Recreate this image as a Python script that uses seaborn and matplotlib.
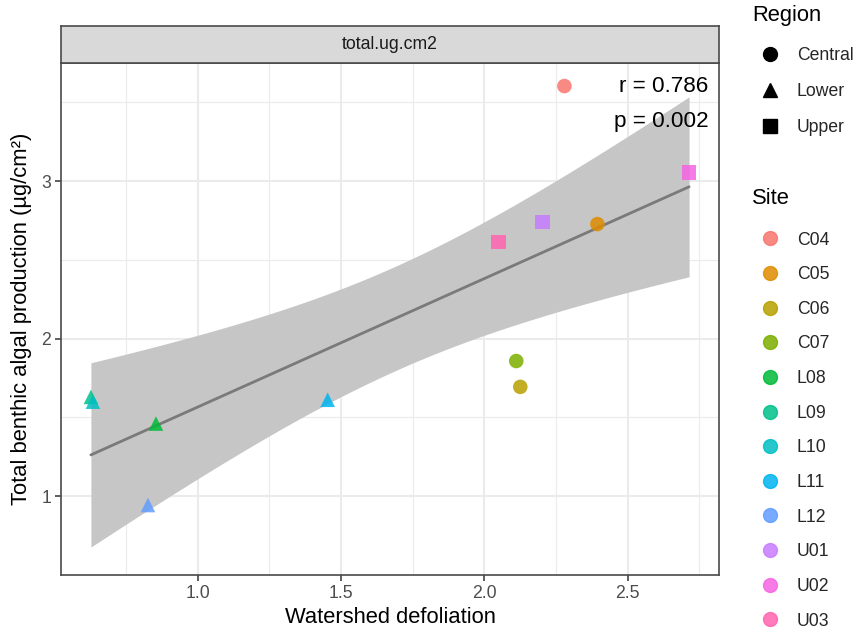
import numpy as np
import pandas as pd
import matplotlib
matplotlib.use("Agg")
import matplotlib.pyplot as plt
from matplotlib.lines import Line2D
import seaborn as sns

# ---- data ----
sites = ["C04", "C05", "C06", "C07", "L08", "L09", "L10", "L11", "L12", "U01", "U02", "U03"]
regions = ["Central", "Central", "Central", "Central", "Lower", "Lower", "Lower", "Lower", "Lower",
           "Upper", "Upper", "Upper"]
defoliation = [2.279, 2.394, 2.125, 2.111, 0.854, 0.627, 0.634, 1.453, 0.826, 2.202, 2.714, 2.049]
production = [3.603, 2.727, 1.694, 1.858, 1.461, 1.630, 1.600, 1.612, 0.944, 2.739, 3.055, 2.613]
region_order = ["Central", "Lower", "Upper"]
stat_labels = ["r = 0.786", "p = 0.002"]
facet_label = "total.ug.cm2"
x_ticks = [1.0, 1.5, 2.0, 2.5]
y_ticks = [1, 2, 3]

site_colors = ["#F8766D", "#DE8C00", "#B79F00", "#7CAE00", "#00BA38", "#00C08B",
               "#00BFC4", "#00B4F0", "#619CFF", "#C77CFF", "#F564E3", "#FF64B0"]
region_markers = {"Central": "o", "Lower": "^", "Upper": "s"}

df = pd.DataFrame({"Site": sites, "Region": regions, "x": defoliation, "y": production})

sns.set_theme(style="white")
plt.rcParams["font.family"] = ["Liberation Sans", "DejaVu Sans"]

W, H = 860, 636
fig = plt.figure(figsize=(W / 100, H / 100), dpi=100)
L, R, T, B = 61, 719, 63, 575
ax = fig.add_axes([L / W, 1 - B / H, (R - L) / W, (B - T) / H])

# ---- linear fit with 95% CI ----
x = np.asarray(defoliation)
y = np.asarray(production)
n = len(x)
b1, b0 = np.polyfit(x, y, 1)
xs = np.linspace(x.min(), x.max(), 200)
ys = b0 + b1 * xs
resid = y - (b0 + b1 * x)
s = np.sqrt(np.sum(resid ** 2) / (n - 2))
sxx = np.sum((x - x.mean()) ** 2)
tcrit = 2.228  # t(0.975, df=10)
se = s * np.sqrt(1 / n + (xs - x.mean()) ** 2 / sxx)
ax.fill_between(xs, ys - tcrit * se, ys + tcrit * se, color="#C6C6C6", lw=0, zorder=1)
ax.plot(xs, ys, color="#7A7A7A", lw=2.0, zorder=2)

sns.scatterplot(data=df, x="x", y="y", hue="Site", hue_order=sites, palette=site_colors,
                style="Region", style_order=region_order, markers=region_markers,
                s=110, alpha=0.85, linewidth=0, legend=False, ax=ax, zorder=3)

# limits with ggplot-like 5% expansion
xmin, xmax = x.min(), x.max()
dx = (xmax - xmin) * 0.05
ax.set_xlim(xmin - dx, xmax + dx)
lo = min(y.min(), (ys - tcrit * se).min())
hi = max(y.max(), (ys + tcrit * se).max())
dy = (hi - lo) * 0.05
ax.set_ylim(lo - dy, hi + dy)

ax.set_xticks(x_ticks)
ax.set_xticklabels([f"{v:.1f}" for v in x_ticks])
ax.set_yticks(y_ticks)
ax.set_yticklabels([str(v) for v in y_ticks])
ax.set_xticks(np.arange(0.75, 2.9, 0.5), minor=True)
ax.set_yticks(np.arange(0.5, 4.0, 1.0), minor=True)
ax.grid(True, which="major", color="#EBEBEB", lw=1.5)
ax.grid(True, which="minor", color="#EBEBEB", lw=0.8)
ax.set_axisbelow(True)
for sp in ax.spines.values():
    sp.set_color("#4A4A4A")
    sp.set_linewidth(1.2)
ax.tick_params(axis="both", which="major", length=4, width=1.1, color="#333333",
               labelsize=12.7, labelcolor="#4D4D4D", pad=3, bottom=True, left=True)
ax.tick_params(axis="both", which="minor", length=0)
ax.set_xlabel("Watershed defoliation", fontsize=15.8, color="black", labelpad=4)
ax.set_ylabel("Total benthic algal production (µg/cm²)", fontsize=15.8, color="black", labelpad=7)

# stats annotation
ax.text(0.984, 0.955, stat_labels[0], transform=ax.transAxes, ha="right", va="center",
        fontsize=16.2, color="black")
ax.text(0.984, 0.885, stat_labels[1], transform=ax.transAxes, ha="right", va="center",
        fontsize=16.2, color="black")

# facet strip
sax = fig.add_axes([L / W, 1 - 62.5 / H, (R - L) / W, 36.3 / H])
sax.set_facecolor("#D9D9D9")
sax.set_xticks([])
sax.set_yticks([])
for sp in sax.spines.values():
    sp.set_color("#4A4A4A")
    sp.set_linewidth(1.2)
sax.text(0.5, 0.5, facet_label, ha="center", va="center", fontsize=12.7, color="#1A1A1A",
         transform=sax.transAxes)

# legends
fig.text(752 / W, 1 - 16 / H, "Region", ha="left", va="center", fontsize=15.8, color="black")
fig.text(752 / W, 1 - 198 / H, "Site", ha="left", va="center", fontsize=15.8, color="black")
reg_handles = [Line2D([], [], marker=region_markers[r], color="black", linestyle="",
                      markersize=10) for r in region_order]
fig.legend(reg_handles, region_order, loc="upper left", borderaxespad=0,
           bbox_to_anchor=(749 / W, 1 - 40 / H), frameon=False, fontsize=12.7,
           labelspacing=1.07, handletextpad=0.7, handlelength=1.6)
site_handles = [Line2D([], [], marker="o", color=c, linestyle="", markersize=10, alpha=0.85)
                for c in site_colors]
fig.legend(site_handles, sites, loc="upper left", borderaxespad=0,
           bbox_to_anchor=(749 / W, 1 - 224.5 / H), frameon=False, fontsize=12.7,
           labelspacing=1.0, handletextpad=0.7, handlelength=1.6)

fig.savefig("out.png", dpi=100, facecolor="white")
